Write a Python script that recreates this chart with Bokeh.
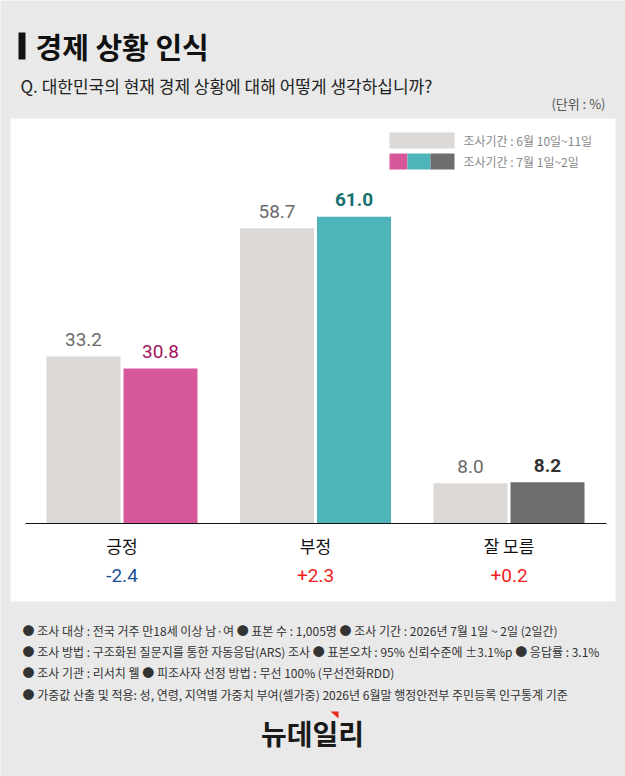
from bokeh.plotting import figure
from bokeh.models import Range1d
from bokeh.core.properties import value
from bokeh.embed import file_html
from bokeh.resources import INLINE

# ---------------- data ----------------
categories = ["긍정", "부정", "잘 모름"]
june = [33.2, 58.7, 8.0]
july = [30.8, 61.0, 8.2]
changes = ["-2.4", "+2.3", "+0.2"]
june_color = "#dcd8d5"
july_colors = ["#d6589a", "#4fb4ba", "#6d6d6d"]
july_label_colors = ["#a3135f", "#17706e", "#333333"]
july_label_styles = ["normal", "bold", "bold"]
change_colors = ["#1b4f93", "#f01e1e", "#f01e1e"]
legend_labels = ["조사기간 : 6월 10일~11일", "조사기간 : 7월 1일~2일"]
title_text = "경제 상황 인식"
question = "Q. 대한민국의 현재 경제 상황에 대해 어떻게 생각하십니까?"
unit_text = "(단위 : %)"
notes = [
    "● 조사 대상 : 전국 거주 만18세 이상 남·여   ● 표본 수 : 1,005명  ● 조사 기간 : 2026년 7월 1일 ~ 2일 (2일간)",
    "● 조사 방법 : 구조화된 질문지를 통한 자동응답(ARS) 조사  ● 표본오차 : 95% 신뢰수준에 ±3.1%p   ● 응답률 : 3.1%",
    "● 조사 기관 : 리서치 웰   ● 피조사자 선정 방법 : 무선 100% (무선전화RDD)",
    "● 가중값 산출 및 적용: 성, 연령, 지역별 가중치 부여(셀가중) 2026년 6월말 행정안전부 주민등록 인구통계 기준",
]
logo_text = "뉴데일리"

# ---------------- layout constants ----------------
W, H = 625, 776
PPU = 5.03     # pixels per percent
BASE = 523     # baseline pixel row
PPX = 193.5    # pixels per category
X0 = 121.5     # pixel column of first category
KR = value("Noto Sans CJK KR")
NUM = value("Roboto")


def X(px):
    return (px - X0) / PPX


def Y(py):
    return (BASE - py) / PPU


p = figure(width=W, height=H, output_backend="svg", toolbar_location=None,
           x_range=Range1d(-X0 / PPX, (W - X0) / PPX),
           y_range=Range1d(-(H - BASE) / PPU, BASE / PPU),
           min_border=0, min_border_left=0, min_border_right=0,
           min_border_top=0, min_border_bottom=0,
           outline_line_color=None,
           background_fill_color="#e9e9e9", border_fill_color="#e9e9e9")
p.xaxis.visible = False
p.yaxis.visible = False
p.grid.visible = False

# white panel
p.quad(left=X(10), right=X(615), top=Y(118), bottom=Y(601),
       fill_color="white", line_color=None)

# title
p.quad(left=X(18), right=X(25), top=Y(32), bottom=Y(59),
       fill_color="#111111", line_color=None)
p.text(x=[X(35)], y=[Y(45)], text=[title_text], text_font=KR,
       text_font_size="29px", text_font_style="bold", text_color="#111111",
       text_align="left", text_baseline="middle")
p.text(x=[X(20)], y=[Y(85)], text=[question], text_font=KR,
       text_font_size="17px", text_color="#222222",
       text_align="left", text_baseline="middle")
p.text(x=[X(605)], y=[Y(103)], text=[unit_text], text_font=KR,
       text_font_size="13px", text_color="#555555",
       text_align="right", text_baseline="middle")

# legend
p.quad(left=X(389), right=X(454), top=Y(132), bottom=Y(148),
       fill_color=june_color, line_color=None)
seg = [389, 407, 430, 454]
for i in range(3):
    p.quad(left=X(seg[i]), right=X(seg[i + 1]), top=Y(153), bottom=Y(169),
           fill_color=july_colors[i], line_color=None)
p.text(x=[X(463), X(463)], y=[Y(140), Y(161)], text=legend_labels, text_font=KR,
       text_font_size="12px", text_color="#888888",
       text_align="left", text_baseline="middle")

# bars
xs = list(range(len(categories)))
off = 38.5 / PPX
bw = 74 / PPX
p.vbar(x=[i - off for i in xs], top=june, bottom=0, width=bw,
       fill_color=june_color, line_color=None)
p.vbar(x=[i + off for i in xs], top=july, bottom=0, width=bw,
       fill_color=july_colors, line_color=None)

# value labels
p.text(x=[i - off for i in xs], y=june, text=[f"{v:.1f}" for v in june],
       text_font=NUM, text_font_size="19px", text_color="#6b6b6b",
       text_align="center", text_baseline="middle", y_offset=-17)
p.text(x=[i + off for i in xs], y=july, text=[f"{v:.1f}" for v in july],
       text_font=NUM, text_font_size="19px", text_font_style=july_label_styles,
       text_color=july_label_colors,
       text_align="center", text_baseline="middle", y_offset=-17)

# baseline
p.segment(x0=[X(25)], x1=[X(606)], y0=[0], y1=[0], line_color="#111111", line_width=1)

# category labels and changes
p.text(x=xs, y=[0] * len(xs), text=categories, text_font=KR,
       text_font_size="17px", text_color="#111111",
       text_align="center", text_baseline="middle", y_offset=22)
p.text(x=xs, y=[0] * len(xs), text=changes, text_font=NUM,
       text_font_size="19px", text_color=change_colors,
       text_align="center", text_baseline="middle", y_offset=52)

# notes
p.text(x=[X(22)] * len(notes), y=[Y(630 + 21.2 * i) for i in range(len(notes))],
       text=notes, text_font=KR, text_font_size="12px", text_color="#333333",
       text_align="left", text_baseline="middle")

# logo
p.text(x=[X(312)], y=[Y(732)], text=[logo_text], text_font=KR,
       text_font_size="28px", text_font_style="bold", text_color="#1a1a1a",
       text_align="center", text_baseline="middle")
p.patch(x=[X(330), X(338), X(338)], y=[Y(711), Y(711), Y(718)],
        fill_color="#e8291c", line_color=None)

open("out.html", "w").write(file_html(p, INLINE, title="경제 상황 인식"))
